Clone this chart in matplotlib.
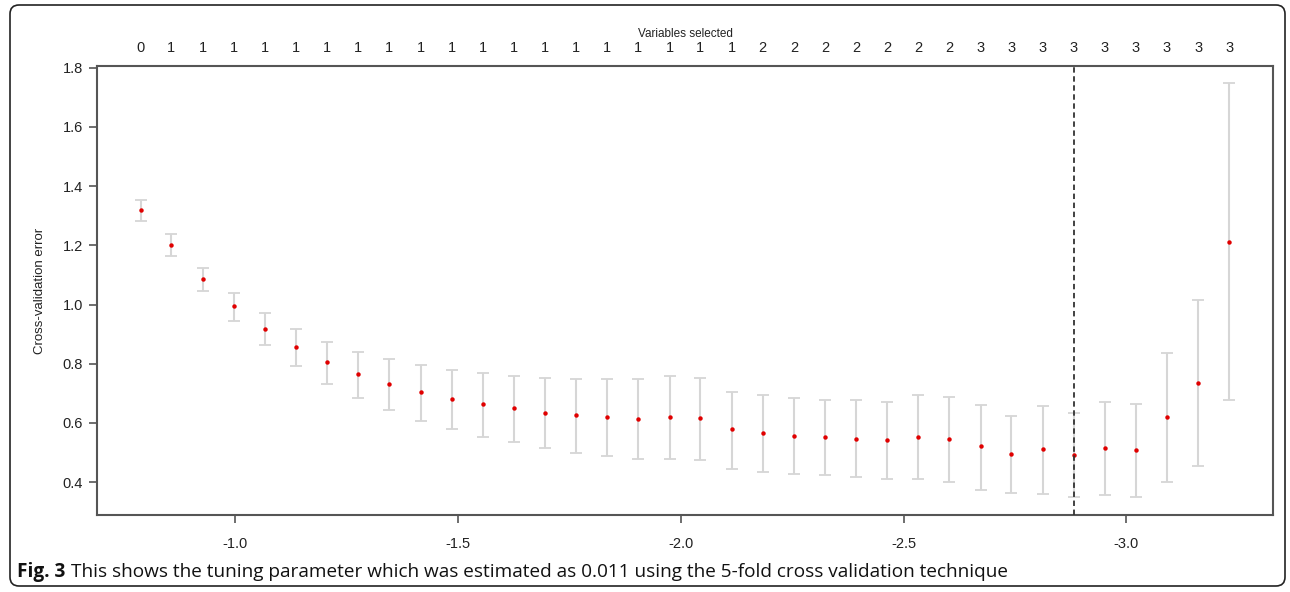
import matplotlib
matplotlib.use("Agg")
import matplotlib.pyplot as plt
from matplotlib.patches import FancyBboxPatch
from matplotlib.transforms import IdentityTransform

# ---- data ----
log_lambda = [-0.788, -0.857, -0.927, -0.997, -1.067, -1.137, -1.207, -1.276, -1.346,
              -1.416, -1.486, -1.556, -1.626, -1.695, -1.765, -1.835, -1.905, -1.975,
              -2.044, -2.114, -2.184, -2.254, -2.324, -2.393, -2.463, -2.533, -2.603,
              -2.673, -2.742, -2.812, -2.882, -2.952, -3.021, -3.091, -3.161, -3.231]
cv_error = [1.320, 1.200, 1.088, 0.995, 0.919, 0.858, 0.807, 0.766, 0.731, 0.703, 0.680,
            0.663, 0.649, 0.635, 0.626, 0.620, 0.613, 0.620, 0.616, 0.578, 0.566, 0.557,
            0.553, 0.546, 0.543, 0.553, 0.546, 0.521, 0.495, 0.512, 0.492, 0.515, 0.508,
            0.620, 0.734, 1.212]
cv_upper = [1.354, 1.238, 1.124, 1.038, 0.972, 0.917, 0.875, 0.840, 0.815, 0.797, 0.779,
            0.768, 0.759, 0.753, 0.749, 0.749, 0.749, 0.758, 0.752, 0.706, 0.694, 0.685,
            0.676, 0.676, 0.671, 0.694, 0.688, 0.662, 0.623, 0.657, 0.634, 0.670, 0.663,
            0.836, 1.014, 1.749]
cv_lower = [1.281, 1.164, 1.045, 0.944, 0.863, 0.793, 0.732, 0.685, 0.644, 0.608, 0.581,
            0.554, 0.535, 0.516, 0.500, 0.488, 0.478, 0.478, 0.476, 0.445, 0.435, 0.427,
            0.424, 0.417, 0.410, 0.410, 0.401, 0.374, 0.362, 0.359, 0.350, 0.358, 0.351,
            0.401, 0.455, 0.676]
n_selected = [0, 1, 1, 1, 1, 1, 1, 1, 1, 1, 1, 1, 1, 1, 1, 1, 1, 1, 1, 1,
              2, 2, 2, 2, 2, 2, 2, 3, 3, 3, 3, 3, 3, 3, 3, 3]
lambda_min = -2.882
x_ticks = [-1.0, -1.5, -2.0, -2.5, -3.0]
x_tick_labels = ["-1.0", "-1.5", "-2.0", "-2.5", "-3.0"]
y_ticks = [0.4, 0.6, 0.8, 1.0, 1.2, 1.4, 1.6, 1.8]
y_tick_labels = ["0.4", "0.6", "0.8", "1.0", "1.2", "1.4", "1.6", "1.8"]
caption_bold = "Fig. 3"
caption_text = "This shows the tuning parameter which was estimated as 0.011 using the 5-fold cross validation technique"

W, H, DPI = 1290, 592, 100
fig = plt.figure(figsize=(W / DPI, H / DPI), dpi=DPI)
fig.patch.set_facecolor("white")

ax = fig.add_axes([97 / W, 1 - 515 / H, (1273 - 97) / W, (515 - 66) / H])

axis_col = "#555555"
font = ["Liberation Sans", "DejaVu Sans"]

err_lo = [c - l for c, l in zip(cv_error, cv_lower)]
err_hi = [u - c for c, u in zip(cv_error, cv_upper)]
ax.errorbar(log_lambda, cv_error, yerr=[err_lo, err_hi], fmt="none",
            ecolor="#d6d6d6", elinewidth=1.5, capsize=4.5, capthick=1.3, zorder=2)
ax.plot(log_lambda, cv_error, "o", color="#e00000", markersize=3.2,
        markeredgewidth=0, zorder=3)
ax.axvline(lambda_min, color="#333333", linestyle=(0, (3, 2)), linewidth=1.3, zorder=4)

ax.set_xlim(-0.690, -3.329)
ax.set_ylim(0.289, 1.806)
ax.set_xticks(x_ticks)
ax.set_xticklabels(x_tick_labels, fontfamily=font, fontsize=10.5)
ax.set_yticks(y_ticks)
ax.set_yticklabels(y_tick_labels, fontfamily=font, fontsize=10.5)
ax.tick_params(axis="both", direction="out", length=6, width=1.2, color=axis_col,
               labelcolor="#222222")
ax.tick_params(axis="x", pad=10)
ax.tick_params(axis="y", pad=4)
for s in ax.spines.values():
    s.set_color(axis_col)
    s.set_linewidth(1.5)
ax.set_ylabel("Cross-validation error", fontfamily=font, fontsize=9.5,
              color="#222222", labelpad=12)

ax2 = ax.twiny()
ax2.set_xlim(ax.get_xlim())
ax2.set_xticks(log_lambda)
ax2.set_xticklabels([str(v) for v in n_selected], fontfamily=font, fontsize=10.5,
                    color="#222222")
ax2.tick_params(axis="x", length=0, pad=8)
ax2.set_xlabel("Variables selected", fontfamily=font, fontsize=8.5,
               color="#222222", labelpad=3)
for s in ax2.spines.values():
    s.set_visible(False)

# outer rounded frame
frame = FancyBboxPatch((10, H - 586), 1275, 581, boxstyle="round,pad=0,rounding_size=9",
                       transform=IdentityTransform(), fill=False,
                       edgecolor="#222222", linewidth=1.2)
fig.patches.append(frame)

cap_font = ["Open Sans", "DejaVu Sans"]
cap_y = 1 - 572 / H
t1 = fig.text(17 / W, cap_y, caption_bold, fontfamily=cap_font, fontweight="bold",
              fontsize=13.7, va="center", ha="left", color="#111111")
fig.canvas.draw()
bb = t1.get_window_extent()
fig.text((bb.x1 + 6) / W, cap_y, caption_text, fontfamily=cap_font,
         fontsize=13.7, va="center", ha="left", color="#111111")

fig.savefig("out.png", dpi=DPI)
